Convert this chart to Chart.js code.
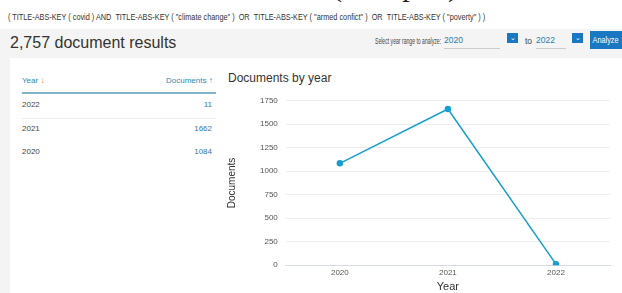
<!DOCTYPE html>
<html>
<head>
<meta charset="utf-8">
<script src="https://cdn.jsdelivr.net/npm/chart.js@4"></script>
<style>
  body { margin: 0; width: 622px; height: 293px; overflow: hidden; background: #fff; font-family: "Liberation Sans", Arial, sans-serif; position: relative; }
  .abs { position: absolute; white-space: nowrap; }
  .narrow { transform: scaleX(0.86); transform-origin: left top; }
  #stamp { left: 332px; top: -31px; font-family: "Liberation Serif", serif; font-size: 30px; color: #222; letter-spacing: 3px; }
  #query { left: 8px; top: 12px; font-size: 8.5px; color: #333; }
  #band { left: 0; top: 29px; width: 622px; height: 264px; background: #f4f4f4; }
  #card { left: 10px; top: 58px; width: 612px; height: 235px; background: #fff; }
  #results { left: 10px; top: 34px; font-size: 16px; color: #333; }
  #range { left: 375px; top: 36px; font-size: 8.5px; color: #444; transform: scaleX(0.6); transform-origin: left top; }
  .sel { font-size: 8.5px; color: #2a7bb0; border-bottom: 1px solid #ccc; height: 13px; }
  .box { width: 11px; height: 10px; background: #1a78c2; color: #fff; font-size: 7px; text-align: center; line-height: 9px; }
  #analyze { left: 590px; top: 31px; width: 40px; height: 18px; background: #1a78c2; color: #fff; font-size: 8.5px; line-height: 18px; padding-left: 3px; }
  .th { font-size: 8px; color: #2a8bb8; top: 76px; }
  .td { font-size: 8px; color: #444; }
  .tv { font-size: 8px; color: #2a7bb0; text-align: right; width: 60px; }
  #thline { left: 22px; top: 92px; width: 194px; height: 2px; background: #7fb6c6; }
  #rowline { left: 22px; top: 118px; width: 194px; height: 1px; background: #f0f0f0; }
  #ctitle { left: 228px; top: 71px; font-size: 12px; color: #333; }
  #wrap { left: 222px; top: 88px; width: 395px; height: 207px; }
</style>
</head>
<body>
<div class="abs" id="stamp">(sample)</div>
<div class="abs narrow" id="query">( TITLE-ABS-KEY ( covid ) AND &nbsp;TITLE-ABS-KEY ( "climate change" ) &nbsp;OR &nbsp;TITLE-ABS-KEY ( "armed confict" ) &nbsp;OR &nbsp;TITLE-ABS-KEY ( "poverty" ) )</div>
<div class="abs" id="band"></div>
<div class="abs" id="card"></div>
<div class="abs" id="results">2,757 document results</div>
<div class="abs" id="range">Select year range to analyze:</div>
<div class="abs sel" style="left:444px;top:35px;width:56px;">2020</div>
<div class="abs box" style="left:507px;top:33px;">&#8964;</div>
<div class="abs" style="left:525px;top:36px;font-size:8.5px;color:#444;">to</div>
<div class="abs sel" style="left:536px;top:35px;width:30px;">2022</div>
<div class="abs box" style="left:572px;top:33px;">&#8964;</div>
<div class="abs narrow" id="analyze">Analyze</div>

<div class="abs th" style="left:22px;">Year <span style="color:#e8704a">&#8595;</span></div>
<div class="abs th" style="left:166px;">Documents <span style="color:#2a8bb8">&#8593;</span></div>
<div class="abs" id="thline"></div>
<div class="abs" id="rowline"></div>
<div id="rows"></div>

<div class="abs" id="ctitle">Documents by year</div>
<div class="abs" id="wrap"><canvas id="docs-chart"></canvas></div>

<script>
const years = ['2020', '2021', '2022'];
const documents = [1084, 1662, 11];
const tableYears = ['2022', '2021', '2020'];
const tableDocs = [11, 1662, 1084];

// table rows
const rows = document.getElementById('rows');
tableYears.forEach((yr, i) => {
    const top = 100 + i * 23.5;
    rows.insertAdjacentHTML('beforeend',
        `<div class="abs td" style="left:22px;top:${top}px">${yr}</div>` +
        `<div class="abs tv" style="left:152px;top:${top}px">${tableDocs[i]}</div>`);
});

const docsChart = new Chart(document.getElementById('docs-chart'), {
    type: 'line',
    data: {
        labels: years,
        datasets: [{
            label: 'Documents',
            data: documents,
            borderColor: '#159fd0',
            backgroundColor: '#159fd0',
            borderWidth: 1.5,
            pointRadius: 2.5,
            tension: 0
        }]
    },
    options: {
        responsive: true,
        maintainAspectRatio: false,
        animation: false,
        layout: { padding: { top: 5, right: 7, bottom: 0, left: 0 } },
        plugins: { legend: { display: false }, tooltip: { enabled: false } },
        scales: {
            x: {
                offset: true,
                grid: { display: false, drawTicks: false, tickLength: 0 },
                border: { color: '#d6daea' },
                ticks: { color: '#555', font: { family: 'Liberation Sans', size: 8 }, padding: 3 },
                title: { display: true, text: 'Year', color: '#333', font: { family: 'Liberation Sans', size: 11 }, padding: { top: 0, bottom: 1 } }
            },
            y: {
                min: 0,
                max: 1750,
                ticks: {
                    stepSize: 250,
                    color: '#555',
                    font: { family: 'Liberation Sans', size: 8 },
                    padding: 8,
                    callback: value => String(value)
                },
                grid: { color: ctx => ctx.tick.value === 0 ? '#d6daea' : '#eeeeee', drawTicks: false },
                border: { display: false },
                title: { display: true, text: 'Documents', color: '#333', font: { family: 'Liberation Sans', size: 10 }, padding: { bottom: 14 } }
            }
        }
    }
});
</script>
</body>
</html>
